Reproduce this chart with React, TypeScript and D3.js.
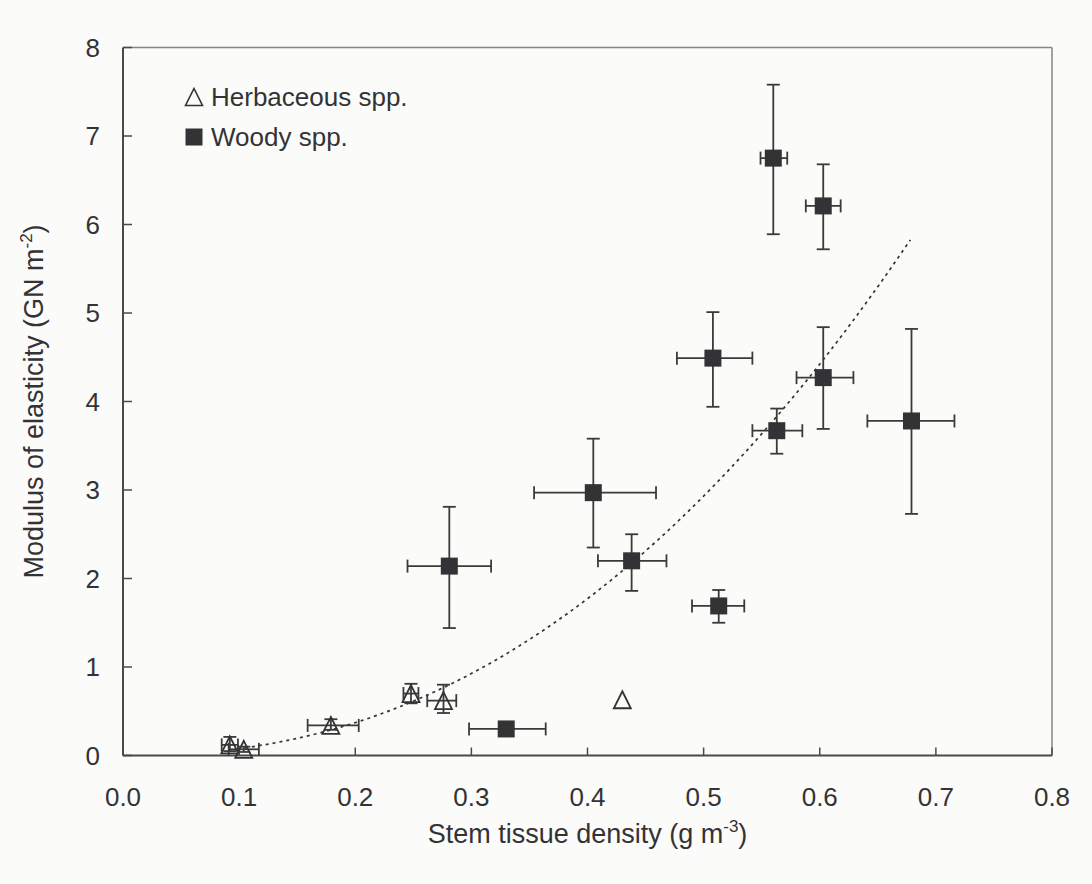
import React from 'react';
import * as d3 from 'd3';

// ---- data ----
const woodyX = [0.560, 0.603, 0.508, 0.405, 0.281, 0.438, 0.513, 0.563, 0.603, 0.679, 0.330];
const woodyY = [6.75, 6.21, 4.49, 2.97, 2.14, 2.20, 1.69, 3.67, 4.27, 3.78, 0.30];
const woodyXLo = [0.549, 0.588, 0.477, 0.354, 0.245, 0.409, 0.490, 0.542, 0.580, 0.641, 0.298];
const woodyXHi = [0.572, 0.618, 0.542, 0.459, 0.317, 0.468, 0.535, 0.585, 0.629, 0.716, 0.364];
const woodyYLo = [5.89, 5.72, 3.94, 2.35, 1.44, 1.86, 1.50, 3.41, 3.69, 2.73, 0.30];
const woodyYHi = [7.58, 6.68, 5.01, 3.58, 2.81, 2.50, 1.87, 3.92, 4.84, 4.82, 0.30];

const herbX = [0.092, 0.104, 0.179, 0.248, 0.276, 0.430];
const herbY = [0.12, 0.07, 0.34, 0.70, 0.62, 0.63];
const herbXLo = [0.085, 0.091, 0.159, 0.2415, 0.262, 0.430];
const herbXHi = [0.099, 0.117, 0.203, 0.2544, 0.287, 0.430];
const herbYLo = [0.05, 0.04, 0.29, 0.59, 0.48, 0.63];
const herbYHi = [0.21, 0.10, 0.41, 0.81, 0.80, 0.63];

// power-law trendline y = a * x^b
const fitA = 14.0;
const fitB = 2.256;
const fitRange = [0.105, 0.678];

const xTicks = [0, 0.1, 0.2, 0.3, 0.4, 0.5, 0.6, 0.7, 0.8];
const yTicks = [0, 1, 2, 3, 4, 5, 6, 7, 8];

const legendLabels = ['Herbaceous spp.', 'Woody spp.'];

const W = 1092, H = 884;
const left = 123, right = 1052, top = 47.5, bottom = 755.5;
const FONT = '"Liberation Sans", Arial, Helvetica, sans-serif';
const INK = '#333336';

export default function App() {
  const x = d3.scaleLinear().domain([0, 0.8]).range([left, right]);
  const y = d3.scaleLinear().domain([0, 8]).range([bottom, top]);

  const fitPts = d3.range(0, 61).map((i) => {
    const xv = fitRange[0] + (fitRange[1] - fitRange[0]) * (i / 60);
    return [xv, fitA * Math.pow(xv, fitB)] as [number, number];
  });
  const line = d3.line<[number, number]>().x((d) => x(d[0])).y((d) => y(d[1]));

  const cap = 6.5;
  const errBars = (xs: number[], ys: number[], xlo: number[], xhi: number[], ylo: number[], yhi: number[], key: string) =>
    xs.map((xv, i) => {
      const cx = x(xv), cy = y(ys[i]);
      const parts: any[] = [];
      if (xhi[i] - xlo[i] > 0.001) {
        parts.push(<line key="h" x1={x(xlo[i])} x2={x(xhi[i])} y1={cy} y2={cy} />);
        parts.push(<line key="hl" x1={x(xlo[i])} x2={x(xlo[i])} y1={cy - cap} y2={cy + cap} />);
        parts.push(<line key="hr" x1={x(xhi[i])} x2={x(xhi[i])} y1={cy - cap} y2={cy + cap} />);
      }
      if (yhi[i] - ylo[i] > 0.001) {
        parts.push(<line key="v" x1={cx} x2={cx} y1={y(ylo[i])} y2={y(yhi[i])} />);
        parts.push(<line key="vb" x1={cx - cap} x2={cx + cap} y1={y(ylo[i])} y2={y(ylo[i])} />);
        parts.push(<line key="vt" x1={cx - cap} x2={cx + cap} y1={y(yhi[i])} y2={y(yhi[i])} />);
      }
      return <g key={key + i}>{parts}</g>;
    });

  const tri = (cx: number, cy: number, s = 17) =>
    `M${cx},${cy - s / 2} L${cx + s / 2},${cy + s / 2} L${cx - s / 2},${cy + s / 2} Z`;

  return (
    <svg width={W} height={H} style={{ position: 'absolute', left: 0, top: 0, background: '#fbfbf9' }} fontFamily={FONT}>
      <rect x={0} y={0} width={W} height={H} fill="#fbfbf9" />
      {/* frame */}
      <line x1={left} x2={right} y1={top} y2={top} stroke="#858585" strokeWidth={1.5} />
      <line x1={right} x2={right} y1={top} y2={bottom} stroke="#858585" strokeWidth={1.5} />
      <line x1={left} x2={left} y1={top} y2={bottom} stroke="#4a4a4a" strokeWidth={2} />
      <line x1={left} x2={right} y1={bottom} y2={bottom} stroke="#4a4a4a" strokeWidth={2} />
      {/* ticks */}
      {yTicks.map((t) => (
        <g key={'y' + t}>
          <line x1={left} x2={left + 9} y1={y(t)} y2={y(t)} stroke="#4a4a4a" strokeWidth={1.5} />
          <text x={100} y={y(t)} dy="0.36em" textAnchor="end" fontSize={26} fill={INK}>{t}</text>
        </g>
      ))}
      {xTicks.map((t) => (
        <g key={'x' + t}>
          <line x1={x(t)} x2={x(t)} y1={bottom} y2={bottom - 8} stroke="#4a4a4a" strokeWidth={1.5} />
          <text x={x(t)} y={806} textAnchor="middle" fontSize={26} fill={INK}>{d3.format('.1f')(t)}</text>
        </g>
      ))}
      {/* axis titles */}
      <text x={(left + right) / 2} y={843} textAnchor="middle" fontSize={27} fill={INK}>
        Stem tissue density (g m<tspan dy={-11} fontSize={17}>-3</tspan><tspan dy={11}>)</tspan>
      </text>
      <text transform={`translate(42.5,${(top + bottom) / 2}) rotate(-90)`} textAnchor="middle" fontSize={27} fill={INK}>
        Modulus of elasticity (GN m<tspan dy={-11} fontSize={17}>-2</tspan><tspan dy={11}>)</tspan>
      </text>
      {/* trendline */}
      <path d={line(fitPts) || ''} fill="none" stroke="#333" strokeWidth={1.7} strokeDasharray="3,4" />
      {/* error bars */}
      <g stroke="#3a3a3a" strokeWidth={1.8}>
        {errBars(herbX, herbY, herbXLo, herbXHi, herbYLo, herbYHi, 'h')}
        {errBars(woodyX, woodyY, woodyXLo, woodyXHi, woodyYLo, woodyYHi, 'w')}
      </g>
      {/* markers */}
      {herbX.map((xv, i) => (
        <path key={'ht' + i} d={tri(x(xv), y(herbY[i]))} fill="none" stroke={INK} strokeWidth={1.8} />
      ))}
      {woodyX.map((xv, i) => (
        <rect key={'ws' + i} x={x(xv) - 8.5} y={y(woodyY[i]) - 8.5} width={17} height={17} fill={INK} />
      ))}
      {/* legend */}
      <path d={tri(194, 97)} fill="none" stroke={INK} strokeWidth={1.6} />
      <text x={211} y={106} fontSize={26} fill={INK}>{legendLabels[0]}</text>
      <rect x={185.5} y={128.5} width={17} height={17} fill={INK} />
      <text x={211} y={146} fontSize={26} fill={INK}>{legendLabels[1]}</text>
    </svg>
  );
}
